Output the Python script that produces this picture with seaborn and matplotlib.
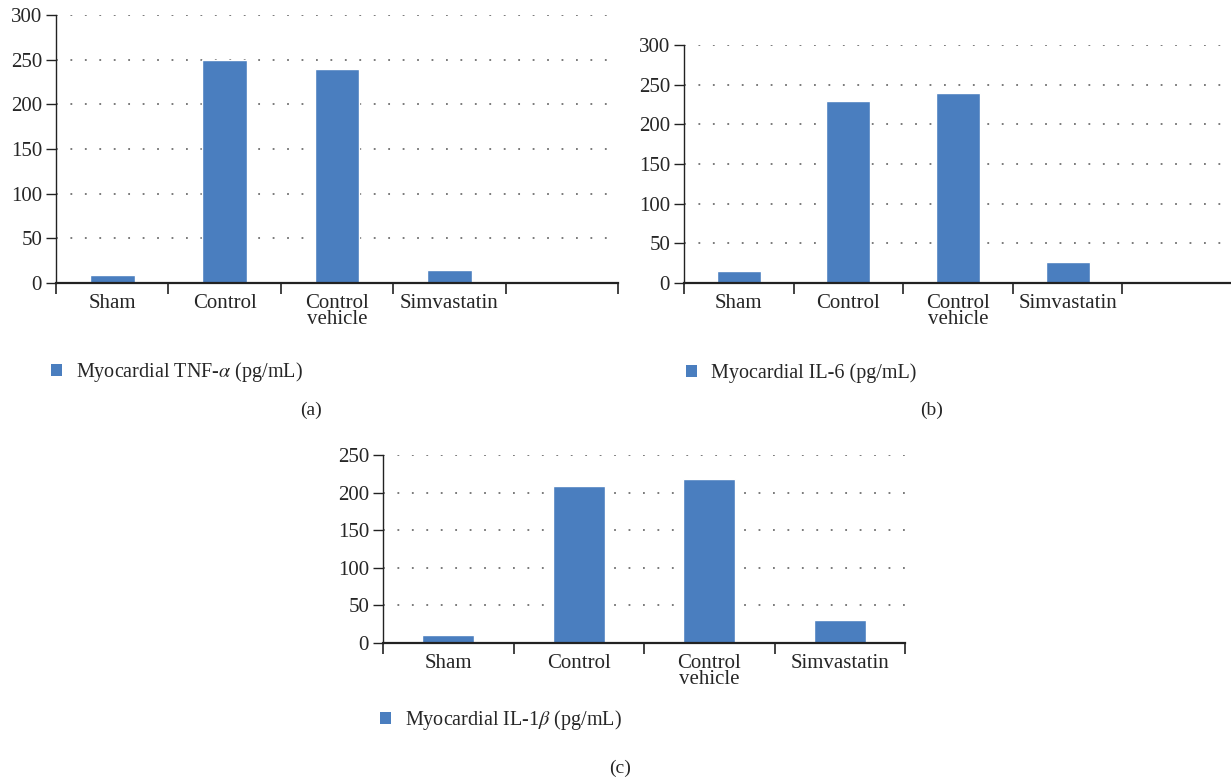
import matplotlib
matplotlib.use("Agg")
import matplotlib.pyplot as plt
import seaborn as sns
from matplotlib.patches import Patch
from matplotlib.ticker import FixedLocator

# Data
groups = ["Sham", "Control", "Control\nvehicle", "Simvastatin"]
tnf_alpha = [9, 250, 240, 15]
il_6 = [15, 230, 240, 27]
il_1beta = [10, 209, 218, 30]

bar_color = "#4A7EBF"

sns.set_style("white")
plt.rcParams["font.family"] = ["Liberation Serif", "DejaVu Serif"]
plt.rcParams["mathtext.fontset"] = "stix"

fig = plt.figure(figsize=(12.31, 7.77), dpi=100)

W, H = 1231, 777


def px_axes(left, right, top, bottom):
    return fig.add_axes([left / W, 1 - bottom / H, (right - left) / W, (bottom - top) / H])


def draw_panel(ax, values, n_slots, ymax, yticks):
    order = groups + [" " * (i + 1) for i in range(n_slots - len(groups))]
    sns.barplot(x=groups, y=values, order=order, color=bar_color, saturation=1,
                width=0.4, ax=ax)
    ax.set_xlim(-0.5, n_slots - 0.5)
    ax.set_ylim(0, ymax)
    ax.set_yticks(yticks)
    ax.set_xticks(range(n_slots))
    ax.set_xticklabels(order, linespacing=0.8)
    ax.xaxis.set_minor_locator(FixedLocator([i - 0.5 for i in range(n_slots + 1)]))
    ax.tick_params(axis="x", which="major", length=0, pad=8, labelsize=15)
    ax.tick_params(axis="x", which="minor", length=8, width=1.2, color="#222222",
                   direction="out", bottom=True)
    ax.tick_params(axis="y", length=7, width=1.0, color="#222222", direction="out",
                   left=True, pad=3, labelsize=15)
    for t in yticks[1:]:
        ax.axhline(t, color="#6f6f6f", lw=1.3, ls=(0, (1, 7)), zorder=0)
    for s in ["top", "right"]:
        ax.spines[s].set_visible(False)
    ax.spines["left"].set_color("#222222")
    ax.spines["bottom"].set_color("#222222")
    ax.spines["left"].set_linewidth(1.0)
    ax.spines["bottom"].set_linewidth(1.6)
    ax.set_xlabel("")
    ax.set_ylabel("")


def add_legend(label, x, y):
    fig.legend(handles=[Patch(facecolor=bar_color, edgecolor="none", label=label)],
               loc="center left", bbox_to_anchor=(x / W, 1 - y / H), frameon=False,
               handlelength=0.55, handleheight=0.55, handletextpad=0.7,
               borderaxespad=0, borderpad=0, fontsize=14.5)


ax_a = px_axes(56, 618, 15, 283)
draw_panel(ax_a, tnf_alpha, 5, 300, [0, 50, 100, 150, 200, 250, 300])

ax_b = px_axes(684, 1232, 45, 283)
draw_panel(ax_b, il_6, 5, 300, [0, 50, 100, 150, 200, 250, 300])

ax_c = px_axes(383, 905, 455, 643)
draw_panel(ax_c, il_1beta, 4, 250, [0, 50, 100, 150, 200, 250])

add_legend(r"Myocardial TNF-$\alpha$ (pg/mL)", 51, 372)
add_legend("Myocardial IL-6 (pg/mL)", 686, 373)
add_legend(r"Myocardial IL-1$\beta$ (pg/mL)", 380, 720)

fig.text(311 / W, 1 - 410 / H, "(a)", ha="center", va="center", fontsize=14)
fig.text(932 / W, 1 - 410 / H, "(b)", ha="center", va="center", fontsize=14)
fig.text(620 / W, 1 - 768 / H, "(c)", ha="center", va="center", fontsize=14)

fig.savefig("out.png", dpi=100)
